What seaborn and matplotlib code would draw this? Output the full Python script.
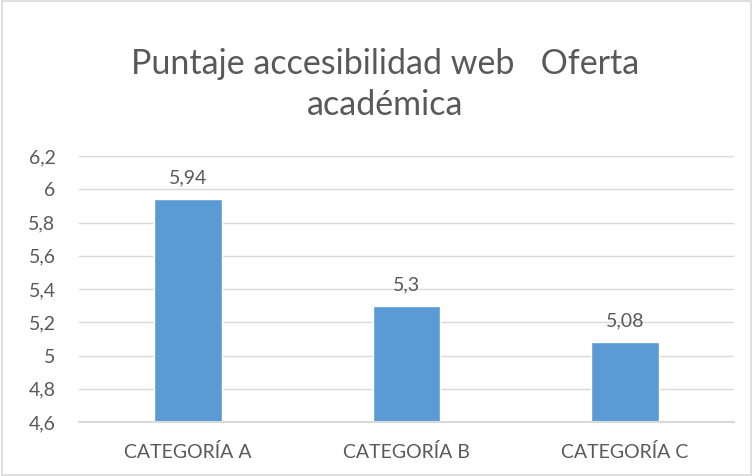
import seaborn as sns
import matplotlib.pyplot as plt
import pandas as pd
from matplotlib.patches import Rectangle

# DATA
categories = ["CATEGORÍA A", "CATEGORÍA B", "CATEGORÍA C"]
scores = [5.94, 5.3, 5.08]
y_ticks = [4.6, 4.8, 5.0, 5.2, 5.4, 5.6, 5.8, 6.0, 6.2]
title = "Puntaje accesibilidad web   Oferta\nacadémica"

text_color = "#595959"
grid_color = "#D9D9D9"
bar_color = "#5B9BD5"


def fmt(v):
    s = "{:g}".format(round(v, 2))
    return s.replace(".", ",")


sns.set_theme(style="white")
plt.rcParams['font.family'] = ['Lato', 'DejaVu Sans']

df = pd.DataFrame({"categoria": categories, "puntaje": scores})

fig = plt.figure(figsize=(7.53, 4.76), dpi=100)
ax = fig.add_axes([0.105, 0.1134, 0.870, 0.5588])

sns.barplot(data=df, x="categoria", y="puntaje", color=bar_color,
            width=0.31, saturation=1, ax=ax, zorder=3)

ax.set_ylim(4.6, 6.2)
ax.set_xlim(-0.5, 2.5)
ax.set_yticks(y_ticks)
ax.set_yticklabels([fmt(t) for t in y_ticks])
ax.yaxis.grid(True, color=grid_color, linewidth=1, zorder=0)
ax.set_xlabel("")
ax.set_ylabel("")

for side in ["top", "right", "left"]:
    ax.spines[side].set_visible(False)
ax.spines["bottom"].set_color(grid_color)
ax.spines["bottom"].set_linewidth(1.5)
ax.spines["bottom"].set_zorder(4)

ax.tick_params(axis="both", length=0, colors=text_color, labelsize=14)
ax.tick_params(axis="x", pad=15)
ax.tick_params(axis="y", pad=17)

for i, v in enumerate(scores):
    ax.annotate(fmt(v), (i, v), xytext=(0, 9), textcoords="offset points",
                ha="center", va="bottom", fontsize=14, color=text_color)

fig.text(0.512, 0.822, title, ha="center", va="center", fontsize=24.5,
         color=text_color, linespacing=1.33)

fig.patches.append(Rectangle((0.002, 0.002), 0.996, 0.996, transform=fig.transFigure,
                             fill=False, edgecolor=grid_color, linewidth=1.2))

plt.savefig("out.png", dpi=100)
plt.close()
